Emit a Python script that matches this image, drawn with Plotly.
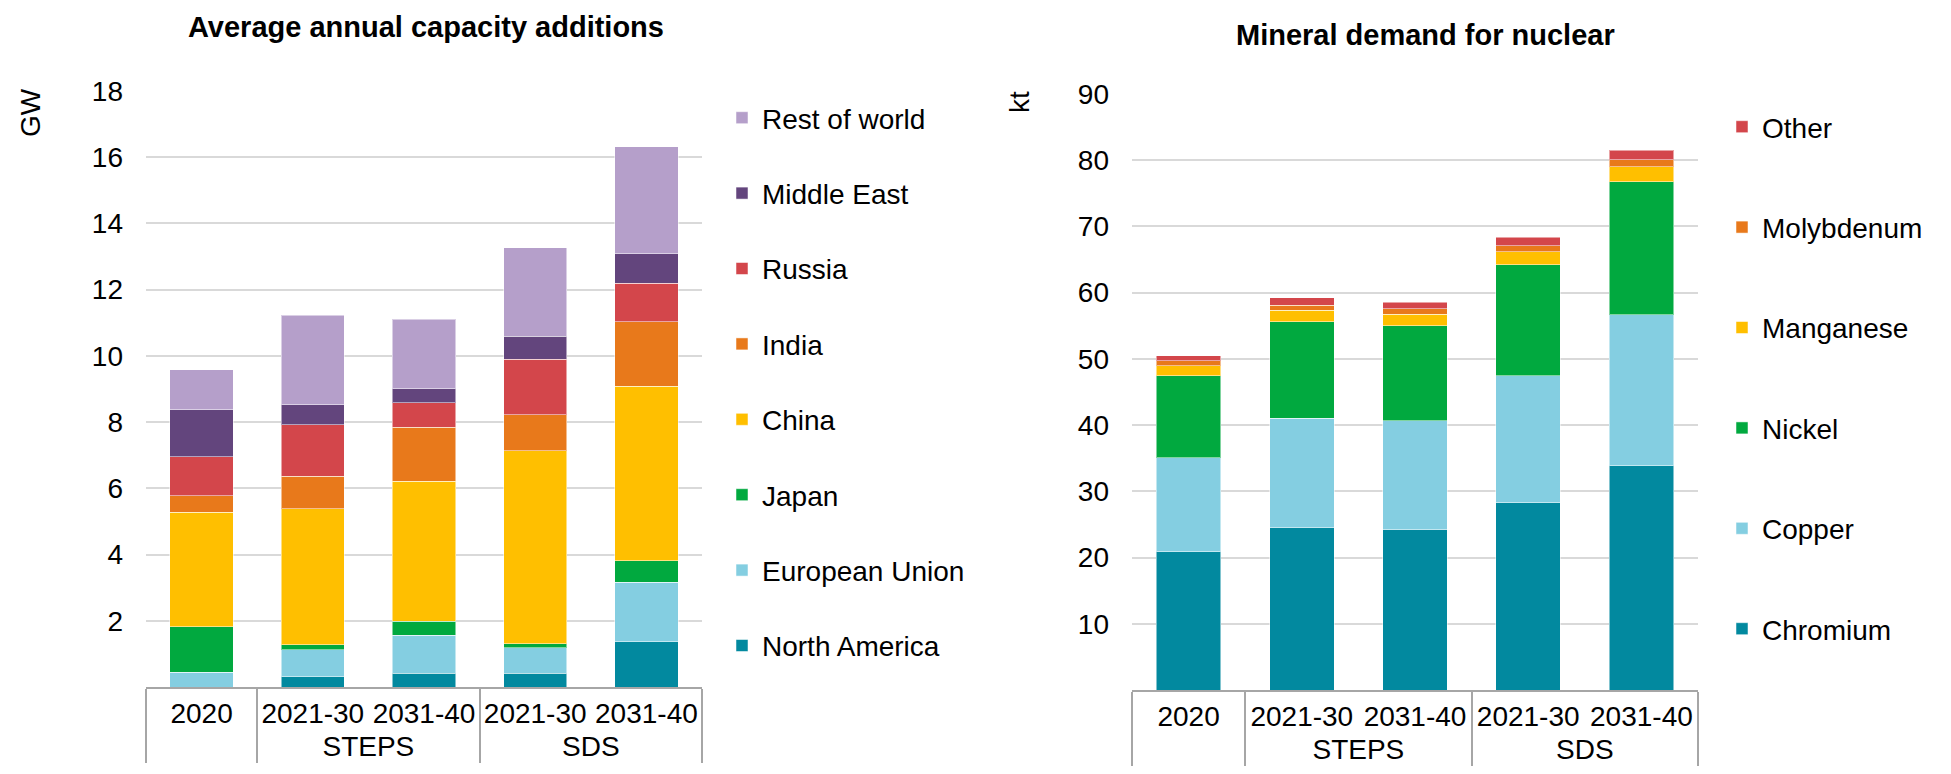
import plotly.graph_objects as go

# ---- data ----
groups = [" ", "STEPS", "STEPS", "SDS", "SDS"]
periods = ["2020", "2021-30", "2031-40", "2021-30", "2031-40"]

regions = ["North America", "European Union", "Japan", "China", "India",
           "Russia", "Middle East", "Rest of world"]
north_america = [0.0, 0.31, 0.41, 0.41, 1.36]
european_union = [0.45, 0.82, 1.15, 0.77, 1.80]
japan = [1.37, 0.14, 0.43, 0.13, 0.65]
china = [3.46, 4.11, 4.23, 5.83, 5.27]
india = [0.49, 0.98, 1.63, 1.09, 1.95]
russia = [1.19, 1.56, 0.74, 1.67, 1.17]
middle_east = [1.41, 0.61, 0.42, 0.69, 0.88]
rest_of_world = [1.21, 2.70, 2.09, 2.67, 3.23]

minerals = ["Chromium", "Copper", "Nickel", "Manganese", "Molybdenum", "Other"]
chromium = [20.85, 24.47, 24.17, 28.25, 33.84]
copper = [14.20, 16.57, 16.46, 19.18, 22.80]
nickel = [12.43, 14.60, 14.40, 16.76, 20.08]
manganese = [1.46, 1.71, 1.71, 1.96, 2.26]
molybdenum = [0.76, 0.75, 0.81, 0.96, 1.11]
other = [0.80, 1.11, 1.00, 1.25, 1.41]

left_ticks = [2, 4, 6, 8, 10, 12, 14, 16, 18]
right_ticks = [10, 20, 30, 40, 50, 60, 70, 80, 90]

# ---- styles ----
C_TEAL = "#02899F"
C_LBLUE = "#84CEE1"
C_GREEN = "#01A93F"
C_YELLOW = "#FFBF00"
C_ORANGE = "#E8791B"
C_RED = "#D3464B"
C_PURPLE = "#63457D"
C_LAV = "#B59FCA"

FONT = "Liberation Sans, Arial, sans-serif"
OFF = 8                      # default page body margin
W, H = 1951 - 2 * OFF, 774 - 2 * OFF

left_series = [north_america, european_union, japan, china, india, russia,
               middle_east, rest_of_world]
left_colors = [C_TEAL, C_LBLUE, C_GREEN, C_YELLOW, C_ORANGE, C_RED, C_PURPLE, C_LAV]
right_series = [chromium, copper, nickel, manganese, molybdenum, other]
right_colors = [C_TEAL, C_LBLUE, C_GREEN, C_YELLOW, C_ORANGE, C_RED]

fig = go.Figure()
xcat = [groups, periods]
for i, (name, vals, col) in enumerate(zip(regions, left_series, left_colors)):
    fig.add_trace(go.Bar(x=xcat, y=vals, name=name, marker_color=col,
                         marker_line=dict(width=1, color="rgba(255,255,255,0.5)"),
                         xaxis="x", yaxis="y", legend="legend", legendgroup=name,
                         legendrank=1000 - i))
for i, (name, vals, col) in enumerate(zip(minerals, right_series, right_colors)):
    fig.add_trace(go.Bar(x=xcat, y=vals, name=name, marker_color=col,
                         marker_line=dict(width=1, color="rgba(255,255,255,0.5)"),
                         xaxis="x2", yaxis="y2", legend="legend2", legendgroup=name,
                         legendrank=1000 - i))

def px_x(p):
    return (p - OFF) / W

def px_y(p):
    return 1 - (p - OFF) / H

xcommon = dict(type="multicategory", showline=True, linecolor="#A6A6A6", linewidth=2,
               showdividers=True, dividercolor="#A6A6A6", dividerwidth=2,
               ticks="outside", ticklen=5, tickcolor="rgba(0,0,0,0)",
               tickfont=dict(family=FONT, size=28, color="#000000"), tickangle=0,
               showgrid=False, zeroline=False, automargin=False, fixedrange=True)
ycommon = dict(showgrid=True, gridcolor="#D9D9D9", gridwidth=2, zeroline=False,
               showline=False, ticks="", ticklabelstandoff=22,
               tickfont=dict(family=FONT, size=28, color="#000000"),
               automargin=False, fixedrange=True)

fig.update_layout(
    width=W, height=H,
    margin=dict(l=0, r=0, t=0, b=0),
    paper_bgcolor="white", plot_bgcolor="white",
    barmode="stack", bargap=0.43,
    font=dict(family=FONT, size=28, color="#000000"),
    xaxis=dict(domain=[px_x(146), px_x(702)], anchor="y", **xcommon),
    yaxis=dict(domain=[px_y(687), px_y(91)], anchor="x", range=[0, 18],
               tickvals=left_ticks, **ycommon),
    xaxis2=dict(domain=[px_x(1132), px_x(1698)], anchor="y2", **xcommon),
    yaxis2=dict(domain=[px_y(690), px_y(94)], anchor="x2", range=[0, 90],
                tickvals=right_ticks, **ycommon),
    legend=dict(x=px_x(722), y=px_y(93), xanchor="left", yanchor="top",
                traceorder="grouped", tracegroupgap=36,
                font=dict(family=FONT, size=28, color="#000000"),
                bgcolor="rgba(0,0,0,0)"),
    legend2=dict(x=px_x(1722), y=px_y(102), xanchor="left", yanchor="top",
                 traceorder="grouped", tracegroupgap=61,
                 font=dict(family=FONT, size=28, color="#000000"),
                 bgcolor="rgba(0,0,0,0)"),
    showlegend=True,
    annotations=[
        dict(text="<b>Average annual capacity additions</b>", x=px_x(426), y=px_y(27),
             xref="paper", yref="paper", showarrow=False, xanchor="center", yanchor="middle",
             font=dict(family=FONT, size=29, color="#000000")),
        dict(text="<b>Mineral demand for nuclear</b>", x=px_x(1425), y=px_y(35),
             xref="paper", yref="paper", showarrow=False, xanchor="center", yanchor="middle",
             font=dict(family=FONT, size=29, color="#000000")),
        dict(text="GW", x=px_x(30), y=px_y(113), xref="paper", yref="paper",
             showarrow=False, textangle=-90, xanchor="center", yanchor="middle",
             font=dict(family=FONT, size=28, color="#000000")),
        dict(text="kt", x=px_x(1020), y=px_y(102), xref="paper", yref="paper",
             showarrow=False, textangle=-90, xanchor="center", yanchor="middle",
             font=dict(family=FONT, size=28, color="#000000")),
    ],
)

fig.write_html("out.html")
